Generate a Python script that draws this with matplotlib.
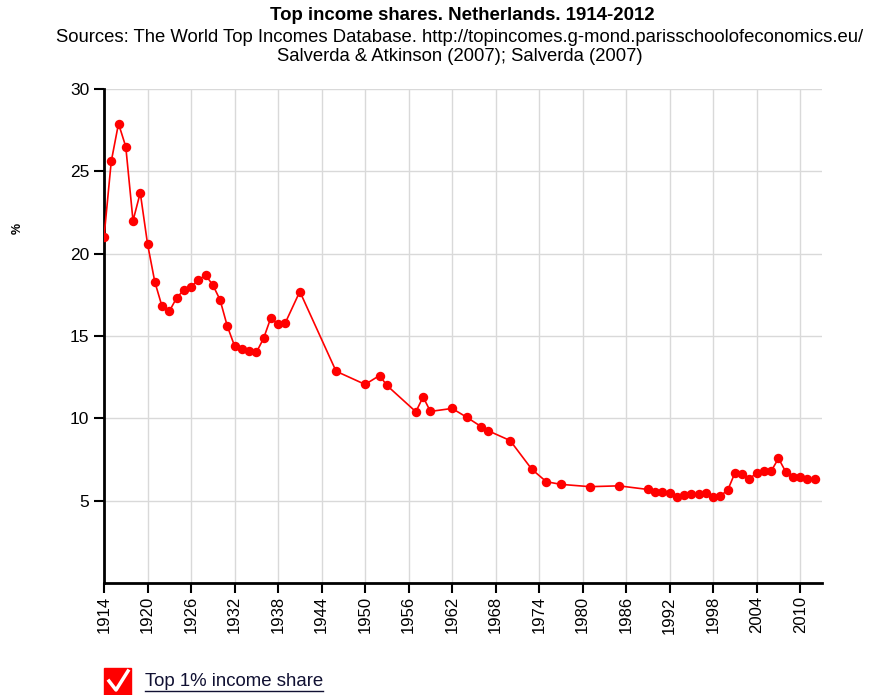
import matplotlib
matplotlib.use('Agg')
import matplotlib.pyplot as plt
from matplotlib.patches import Rectangle
from matplotlib.lines import Line2D

plt.rcParams['font.family'] = ['Liberation Sans', 'DejaVu Sans']

years = [1914, 1915, 1916, 1917, 1918, 1919, 1920, 1921, 1922, 1923, 1924,
         1925, 1926, 1927, 1928, 1929, 1930, 1931, 1932, 1933, 1934, 1935,
         1936, 1937, 1938, 1939, 1941, 1946, 1950, 1952, 1953, 1957, 1958,
         1959, 1962, 1964, 1966, 1967, 1970, 1973, 1975, 1977, 1981, 1985,
         1989, 1990, 1991, 1992, 1993, 1994, 1995, 1996, 1997, 1998, 1999,
         2000, 2001, 2002, 2003, 2004, 2005, 2006, 2007, 2008, 2009, 2010,
         2011, 2012]
top1 = [21.0, 25.6, 27.9, 26.5, 22.0, 23.7, 20.6, 18.3, 16.8, 16.5, 17.3,
        17.8, 18.0, 18.4, 18.7, 18.1, 17.2, 15.6, 14.4, 14.2, 14.1, 14.0,
        14.85, 16.1, 15.7, 15.8, 17.7, 12.86, 12.06, 12.6, 12.0, 10.4, 11.3,
        10.42, 10.6, 10.07, 9.5, 9.24, 8.65, 6.9, 6.15, 5.99, 5.85, 5.9,
        5.68, 5.54, 5.52, 5.48, 5.2, 5.34, 5.38, 5.38, 5.48, 5.2, 5.3,
        5.64, 6.69, 6.6, 6.33, 6.69, 6.8, 6.8, 7.57, 6.75, 6.45, 6.45,
        6.33, 6.33]

xticks = list(range(1914, 2011, 6))
yticks = [5, 10, 15, 20, 25, 30]

title = 'Top income shares. Netherlands. 1914-2012'
subtitle = ('Sources: The World Top Incomes Database. '
            'http://topincomes.g-mond.parisschoolofeconomics.eu/\n'
            'Salverda & Atkinson (2007); Salverda (2007)')
legend_label = 'Top 1% income share'

W, H = 872, 695
fig = plt.figure(figsize=(W / 100, H / 100), dpi=100)
ax = fig.add_axes([104 / W, 1 - 583 / H, (822 - 104) / W, (583 - 89) / H])

ax.plot(years, top1, color='#ff0000', lw=1.2, marker='o', ms=6.8,
        markeredgewidth=0, zorder=3)

ax.set_xlim(1914, 2013)
ax.set_ylim(0, 30)
ax.set_xticks(xticks)
ax.set_xticklabels([str(x) for x in xticks], rotation=90, fontsize=12)
ax.set_yticks(yticks)
ax.set_yticklabels([str(y) for y in yticks], fontsize=12.5)
ax.grid(True, color='#d9d9d9', lw=1)
ax.set_axisbelow(True)
for s in ['top', 'right']:
    ax.spines[s].set_visible(False)
for s in ['left', 'bottom']:
    ax.spines[s].set_linewidth(2)
ax.tick_params(direction='out', length=7.5, width=1.5, pad=2)
ax.tick_params(axis='y', pad=3)

fig.text(18 / W, 1 - 228 / H, '%', rotation=90, ha='center', va='center',
         fontsize=9, fontweight='bold')

fig.text(462 / W, 1 - 16 / H, title, ha='center', va='center',
         fontsize=13.4, fontweight='bold')
fig.text(460 / W, 1 - 47 / H, subtitle, ha='center', va='center',
         fontsize=13.3, linespacing=1.08)

# legend checkbox
fig.patches.append(Rectangle((104 / W, 1 - 695 / H), 27 / W, 27 / H,
                             transform=fig.transFigure, color='#ff0000',
                             zorder=5))
fig.lines.append(Line2D([109 / W, 116 / W, 128 / W],
                        [1 - 681 / H, 1 - 690 / H, 1 - 671 / H],
                        transform=fig.transFigure, color='white', lw=2.5,
                        zorder=6))
fig.text(145 / W, 1 - 682 / H, legend_label, ha='left', va='center',
         fontsize=13.4, color='#111133')
fig.lines.append(Line2D([145 / W, 323 / W], [1 - 691 / H, 1 - 691 / H],
                        transform=fig.transFigure, color='#111133', lw=1))

fig.savefig('out.png', dpi=100)
